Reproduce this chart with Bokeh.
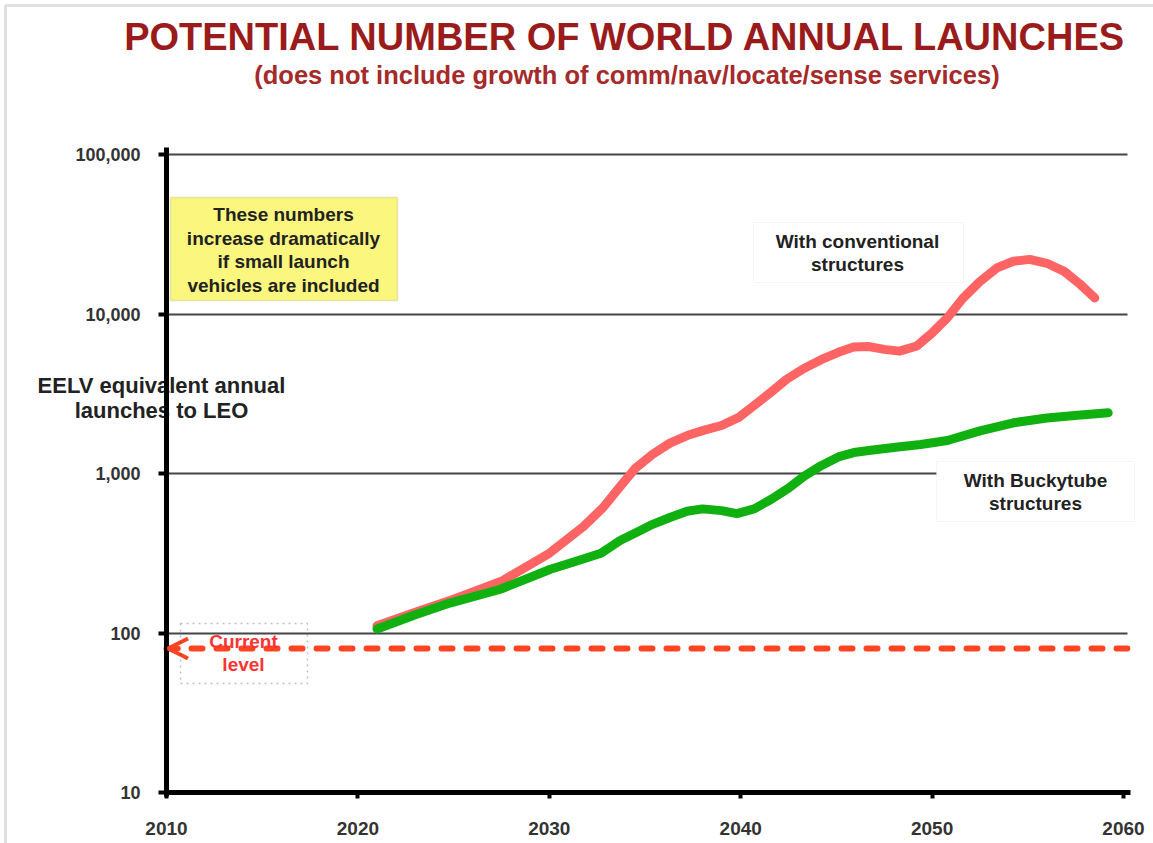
from bokeh.plotting import figure
from bokeh.models import FixedTicker, NumeralTickFormatter, Label, BoxAnnotation, Arrow, OpenHead
from bokeh.embed import file_html
from bokeh.resources import INLINE

# ---------------- data ----------------
conv_years = [2021.0, 2023.0, 2025.0, 2027.5, 2030.0, 2031.8, 2032.8, 2033.6, 2034.5, 2035.4,
              2036.3, 2037.2, 2038.1, 2039.0, 2039.9, 2040.7, 2041.6, 2042.4, 2043.3, 2044.2,
              2045.1, 2045.9, 2046.7, 2047.5, 2048.3, 2049.2, 2050.0, 2050.8, 2051.6, 2052.5,
              2053.4, 2054.25, 2055.1, 2056.0, 2056.9, 2057.7, 2058.5]
conv_values = [111, 135, 163, 211, 316, 467, 610, 800, 1080, 1320,
               1550, 1730, 1870, 2000, 2250, 2670, 3250, 3900, 4550, 5170,
               5750, 6200, 6250, 6000, 5850, 6300, 7600, 9470, 12500, 16000,
               19500, 21400, 22000, 20800, 18500, 15500, 12600]

bucky_years = [2021.0, 2023.0, 2024.8, 2027.45, 2030.06, 2031.4, 2032.7, 2033.7, 2034.6, 2035.4,
               2036.3, 2037.2, 2038.0, 2039.0, 2039.8, 2040.7, 2041.6, 2042.5, 2043.3, 2044.2,
               2045.1, 2046.0, 2046.8, 2048.1, 2049.4, 2050.8, 2052.5, 2054.25, 2056.0, 2057.6, 2059.2]
bucky_values = [106, 130, 154, 188, 251, 282, 316, 380, 430, 480,
                530, 580, 600, 585, 560, 600, 690, 810, 960, 1120,
                1270, 1360, 1400, 1460, 1520, 1610, 1850, 2080, 2230, 2320, 2400]

current_years = [2010, 2060.2]
current_values = [80, 80]

x_ticks = [2010, 2020, 2030, 2040, 2050, 2060]
y_ticks = [10, 100, 1000, 10000, 100000]

title_text = "POTENTIAL NUMBER OF WORLD ANNUAL LAUNCHES"
subtitle_text = "(does not include growth of  comm/nav/locate/sense services)"
ylabel_lines = ["EELV equivalent annual", "launches to LEO"]
note_lines = ["These numbers", "increase dramatically", "if small launch", "vehicles are included"]
conv_lines = ["With conventional", "structures"]
bucky_lines = ["With Buckytube", "structures"]
current_lines = ["Current", "level"]

# ---------------- layout ----------------
W, H = 1153, 843
AX_L, AX_R = 166, 1123       # pixel positions of 2010 and 2060
AX_T, AX_B = 154, 792        # pixel positions of 100,000 and 10
PPY = (AX_R - AX_L) / 50.0   # pixels per year
PPD = (AX_B - AX_T) / 4.0    # pixels per decade

X0 = 2010 - AX_L / PPY
X1 = 2010 + (W - AX_L) / PPY
Y0 = 10 ** (1 - (H - AX_B) / PPD)
Y1 = 10 ** (5 + AX_T / PPD)

p = figure(width=W, height=H, x_range=(X0, X1), y_range=(Y0, Y1), y_axis_type="log",
           output_backend="svg", toolbar_location=None,
           min_border_left=0, min_border_right=0, min_border_top=0, min_border_bottom=0)
p.outline_line_color = None
p.background_fill_color = "white"
p.border_fill_color = "white"


def dx(sx):
    return X0 + sx / PPY


def dy(sy):
    return 10 ** (1 + (AX_B - sy) / PPD)


FONT = "Liberation Sans"

# axes (drawn inside the frame at fixed locations)
for ax in (p.xaxis, p.yaxis):
    ax.axis_line_width = 5
    ax.axis_line_color = "black"
    ax.major_tick_line_width = 4
    ax.major_tick_line_color = "black"
    ax.major_tick_in = 0
    ax.minor_tick_line_color = None
    ax.major_label_text_font = FONT
    ax.major_label_text_font_style = "bold"
    ax.major_label_text_color = "#333333"

p.xaxis.fixed_location = y_ticks[0]
p.xaxis.bounds = (x_ticks[0], dx(1130))
p.xaxis.ticker = FixedTicker(ticks=x_ticks)
p.xaxis.major_tick_out = 6
p.xaxis.major_label_standoff = 23
p.xaxis.major_label_text_font_size = "19px"

p.yaxis.fixed_location = x_ticks[0]
p.yaxis.bounds = (dy(796), dy(147))
p.yaxis.ticker = FixedTicker(ticks=y_ticks)
p.yaxis.formatter = NumeralTickFormatter(format="0,0")
p.yaxis.major_tick_out = 8
p.yaxis.major_label_standoff = 18
p.yaxis.major_label_text_font_size = "18px"

p.xgrid.visible = False
p.ygrid.grid_line_color = "#444444"
p.ygrid.grid_line_width = 2
p.ygrid.cross_bounds = (x_ticks[0], dx(1127))

# slide border
p.add_layout(BoxAnnotation(left=dx(5), right=dx(1180), top=dy(5), bottom=dy(880),
                           fill_alpha=0, line_color="#9A9A9A", line_width=3, level="underlay"))

# data lines
p.line(conv_years, conv_values, line_color="#FF6464", line_width=9, line_cap="round", line_join="round")
p.line(bucky_years, bucky_values, line_color="#10B010", line_width=9, line_cap="round", line_join="round")
p.line(current_years, current_values, line_color="#FF4422", line_width=6, line_dash="11 14", line_cap="round")
p.add_layout(Arrow(end=OpenHead(size=20, line_color="#FF4422", line_width=4),
                   x_start=dx(210), y_start=current_values[0], x_end=current_years[0] + 0.08,
                   y_end=current_values[0], line_alpha=0))


def txt(sx, sy, s, size, color="#222222", level="annotation"):
    p.add_layout(Label(x=dx(sx), y=dy(sy), text=s, text_align="center", text_baseline="middle",
                       text_font=FONT, text_font_style="bold", text_font_size=f"{size}px",
                       text_color=color, level=level))


# title
txt(625, 36, title_text, 38, "#9A1B1B")
txt(630, 74, subtitle_text, 25.5, "#A52A2A")

# y axis label (underneath the axis line)
txt(161, 385, ylabel_lines[0], 22, "#222222", level="underlay")
txt(161, 410, ylabel_lines[1], 22, "#222222", level="underlay")

# yellow note
p.add_layout(BoxAnnotation(left=dx(170), right=dx(397), top=dy(197), bottom=dy(300),
                           fill_color="#FAF67E", fill_alpha=1, line_color="#B5AE6A", line_width=1.5))
for i, s in enumerate(note_lines):
    txt(283, 214 + i * 23.7, s, 19)

# conventional box
p.add_layout(BoxAnnotation(left=dx(753), right=dx(963), top=dy(222), bottom=dy(282),
                           fill_color="white", fill_alpha=1, line_color="#DDDDDD", line_width=1))
for i, s in enumerate(conv_lines):
    txt(857, 241 + i * 23, s, 19)

# buckytube box
p.add_layout(BoxAnnotation(left=dx(936), right=dx(1134), top=dy(461), bottom=dy(521),
                           fill_color="white", fill_alpha=1, line_color="#DDDDDD", line_width=1))
for i, s in enumerate(bucky_lines):
    txt(1035, 480 + i * 23, s, 19)

# current level box
p.add_layout(BoxAnnotation(left=dx(180), right=dx(307), top=dy(623), bottom=dy(683),
                           fill_alpha=0, line_color="#333333", line_width=1.5, line_dash="dotted"))
for i, s in enumerate(current_lines):
    txt(243, 641 + i * 23, s, 19, "#FF3333")

open("out.html", "w").write(file_html(p, INLINE))
